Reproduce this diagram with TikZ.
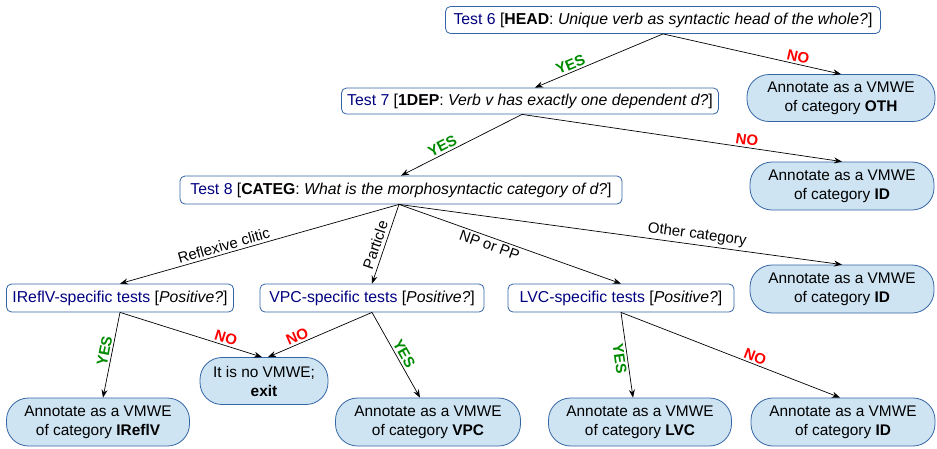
\documentclass[tikz,border=0pt]{standalone}
\usepackage{fontspec}
\setmainfont{Liberation Sans}
\usetikzlibrary{arrows.meta}
\definecolor{bord}{HTML}{3465A4}
\definecolor{fillb}{HTML}{CFE4F3}
\definecolor{navy}{HTML}{000080}
\definecolor{yesg}{HTML}{008A00}
\definecolor{nor}{HTML}{FF0000}
\begin{document}
\begin{tikzpicture}[x=1pt,y=-1pt,
 test/.style={draw=bord, line width=0.8pt, fill=white, rounded corners=5pt, inner sep=0pt, font=\fontsize{15.8}{18}\selectfont},
 term/.style={draw=bord, line width=0.8pt, fill=fillb, rounded corners=22pt, inner sep=0pt, align=center, font=\fontsize{15.4}{19}\selectfont},
 arr/.style={-{Stealth[length=8pt,width=6pt]}, line width=0.7pt},
 yes/.style={text=yesg, font=\bfseries\fontsize{15}{15}\selectfont, sloped, inner sep=2pt},
 no/.style={text=nor, font=\bfseries\fontsize{15}{15}\selectfont, sloped, inner sep=2pt},
 cat/.style={font=\fontsize{15}{15}\selectfont, sloped, inner sep=2.5pt}]
\useasboundingbox (0,0) rectangle (937,448);

\node[test, minimum width=435, minimum height=27] (t6) at (663,20) {\textcolor{navy}{Test 6} [\textbf{HEAD}: \textit{Unique verb as syntactic head of the whole?}]};
\node[test, minimum width=377, minimum height=26] (t7) at (530,101) {\textcolor{navy}{Test 7} [\textbf{1DEP}: \textit{Verb v has exactly one dependent d?}]};
\node[test, minimum width=442, minimum height=28] (t8) at (401,190) {\textcolor{navy}{Test 8} [\textbf{CATEG}: \textit{What is the morphosyntactic category of d?}]};
\node[test, minimum width=227, minimum height=28] (tr) at (120,298) {\textcolor{navy}{IReflV-specific tests} [\textit{Positive?}]};
\node[test, minimum width=224, minimum height=28] (tv) at (372,298) {\textcolor{navy}{VPC-specific tests} [\textit{Positive?}]};
\node[test, minimum width=226, minimum height=28] (tl) at (621,298) {\textcolor{navy}{LVC-specific tests} [\textit{Positive?}]};

\node[term, minimum width=188, minimum height=47] (oth) at (841,98) {Annotate as a VMWE\\of category \textbf{OTH}};
\node[term, minimum width=184, minimum height=48] (id1) at (842,186) {Annotate as a VMWE\\of category \textbf{ID}};
\node[term, minimum width=184, minimum height=48] (id2) at (842,289) {Annotate as a VMWE\\of category \textbf{ID}};
\node[term, minimum width=128, minimum height=47] (ex) at (264,381) {It is no VMWE;\\\textbf{exit}};
\node[term, minimum width=183, minimum height=48] (ar) at (98,422) {Annotate as a VMWE\\of category \textbf{IReflV}};
\node[term, minimum width=185, minimum height=48] (av) at (428,422) {Annotate as a VMWE\\of category \textbf{VPC}};
\node[term, minimum width=183, minimum height=48] (al) at (640,422) {Annotate as a VMWE\\of category \textbf{LVC}};
\node[term, minimum width=184, minimum height=48] (id3) at (843,422) {Annotate as a VMWE\\of category \textbf{ID}};

\draw[arr] (t6.south) -- node[yes, pos=0.7, above] {YES} ([xshift=5]t7.north);
\draw[arr] (t6.south) -- node[no, pos=0.75, above] {NO} (oth.north);
\draw[arr] ([xshift=-8]t7.south) -- node[yes, pos=0.63, above] {YES} (t8.north);
\draw[arr] ([xshift=-8]t7.south) -- node[no, pos=0.7, above] {NO} (id1.north);
\draw[arr] ([xshift=-2]t8.south) -- node[cat, pos=0.62, above] {Reflexive clitic} (tr.north);
\draw[arr] ([xshift=-2]t8.south) -- node[cat, pos=0.55, above, inner sep=3.5pt] {Particle} (tv.north);
\draw[arr] ([xshift=-2]t8.south) -- node[cat, pos=0.42, below] {NP or PP} (tl.north);
\draw[arr] ([xshift=-2]t8.south) -- node[cat, pos=0.67, above] {Other category} (id2.north);
\draw[arr] (tr.south) -- node[yes, pos=0.47, above] {YES} ([xshift=5]ar.north);
\draw[arr] (tr.south) -- node[no, pos=0.73, above] {NO} ([xshift=-2]ex.north);
\draw[arr] (tv.south) -- node[no, pos=0.69, above] {NO} ([xshift=4]ex.north);
\draw[arr] (tv.south) -- node[yes, pos=0.53, above] {YES} ([xshift=-8]av.north);
\draw[arr] (tl.south) -- node[yes, pos=0.53, below] {YES} ([xshift=-7]al.north);
\draw[arr] (tl.south) -- node[no, pos=0.6, above] {NO} ([xshift=-3]id3.north);
\end{tikzpicture}
\end{document}
